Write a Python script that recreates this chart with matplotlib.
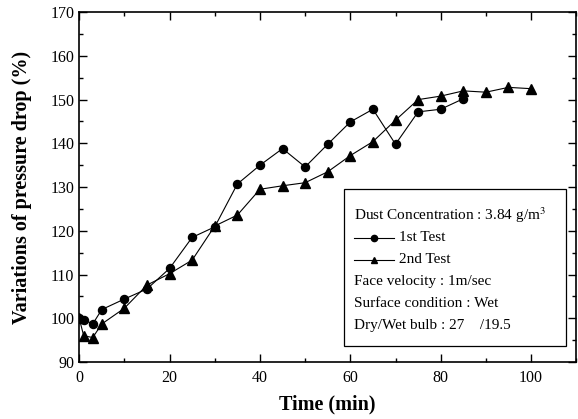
import matplotlib.pyplot as plt
from matplotlib.lines import Line2D
from matplotlib.patches import Rectangle
from matplotlib.ticker import MultipleLocator

plt.rcParams["font.family"] = ["Liberation Serif", "DejaVu Serif"]
plt.rcParams["mathtext.fontset"] = "stix"

t1 = [0, 1, 3, 5, 10, 15, 20, 25, 30, 35, 40, 45, 50, 55, 60, 65, 70, 75, 80, 85]
p1 = [100.1, 99.7, 98.7, 102.0, 104.4, 106.7, 111.4, 118.5, 120.9, 130.7,
      135.0, 138.8, 134.6, 139.8, 144.9, 147.8, 139.8, 147.2, 147.8, 150.2]

t2 = [0, 1, 3, 5, 10, 15, 20, 25, 30, 35, 40, 45, 50, 55, 60, 65, 70, 75,
      80, 85, 90, 95, 100]
p2 = [100.0, 96.0, 95.6, 98.7, 102.3, 107.6, 110.2, 113.3, 121.1, 123.6,
      129.5, 130.3, 131.0, 133.5, 137.2, 140.4, 145.3, 150.0, 150.8, 152.0,
      151.7, 152.8, 152.5]

info = ["Dust Concentration : 3.84 g/m$^3$", "1st Test", "2nd Test",
        "Face velocity : 1m/sec", "Surface condition : Wet",
        "Dry/Wet bulb : 27    /19.5"]

fig = plt.figure(figsize=(5.78, 4.19), dpi=100)
ax = fig.add_axes([0.137, 0.136, 0.86, 0.835])

ax.plot(t1, p1, color="black", lw=0.8, marker="o", ms=5.8)
ax.plot(t2, p2, color="black", lw=0.8, marker="^", ms=6.5)

ax.set_xlim(0, 110)
ax.set_ylim(90, 170)
ax.xaxis.set_major_locator(MultipleLocator(20))
ax.xaxis.set_minor_locator(MultipleLocator(10))
ax.yaxis.set_major_locator(MultipleLocator(10))
ax.yaxis.set_minor_locator(MultipleLocator(5))
ax.set_xticks([0, 20, 40, 60, 80, 100])
ax.tick_params(which="both", direction="in", top=True, right=True,
               labelsize=11.5, width=1)
ax.tick_params(axis="x", which="major", pad=6)
ax.tick_params(which="major", length=6)
ax.tick_params(which="minor", length=3)
for s in ax.spines.values():
    s.set_linewidth(1.2)

ax.set_xlabel("Time (min)", fontsize=14.5, fontweight="bold", labelpad=6)
ax.set_ylabel("Variations of pressure drop (%)", fontsize=14.5,
              fontweight="bold", labelpad=13)

# annotation box
ax.add_patch(Rectangle((0.532, 0.047), 0.447, 0.447, transform=ax.transAxes,
                       fill=False, lw=0.9, zorder=3))
ys = [0.42, 0.355, 0.292, 0.229, 0.166, 0.103]
for i, (txt, y) in enumerate(zip(info, ys)):
    if i in (1, 2):
        ax.add_line(Line2D([0.553, 0.633], [y, y], transform=ax.transAxes,
                           color="black", lw=0.8))
        ax.add_line(Line2D([0.594], [y], transform=ax.transAxes, color="black",
                           marker="o" if i == 1 else "^", ms=4.5))
        ax.text(0.643, y, txt, transform=ax.transAxes, fontsize=11, va="center")
    else:
        ax.text(0.553, y, txt, transform=ax.transAxes, fontsize=11, va="center")

fig.savefig("out.png", dpi=100)
